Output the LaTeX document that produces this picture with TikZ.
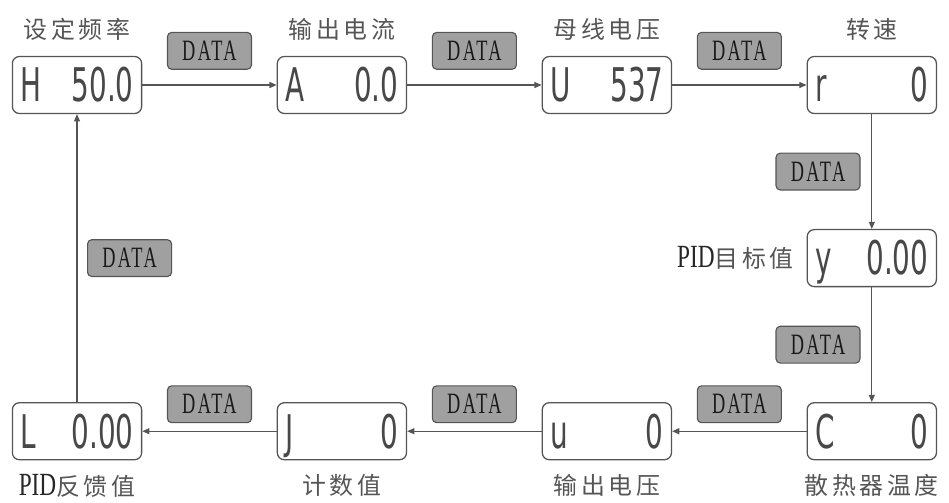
\documentclass[tikz,border=0pt]{standalone}
\usepackage{fontspec}
\usepackage{xcolor}
\usepackage{tikz}
\usetikzlibrary{arrows.meta,positioning}
\newfontfamily\cjk[LetterSpace=15]{Noto Sans CJK SC}
\newfontfamily\segfont[FakeStretch=0.6]{DejaVu Sans}
\newfontfamily\tagfont[FakeStretch=0.62,LetterSpace=8]{Liberation Serif}
\newfontfamily\pidfont[FakeStretch=0.72]{Liberation Serif}
\newcommand{\pidtext}{{\pidfont\fontsize{23}{24}\selectfont\color{black!85}PID}}
\definecolor{lineg}{HTML}{555555}
\definecolor{tagg}{HTML}{A0A0A0}
\definecolor{segg}{HTML}{484848}

\begin{document}
\begin{tikzpicture}[x=0.025cm, y=-0.025cm,
  disp/.style={rectangle, draw=lineg, line width=0.9pt, fill=white,
    rounded corners=5pt, minimum width=3.225cm, minimum height=1.425cm,
    text width=2.83cm, inner xsep=0.2cm, text height=0.84cm, text depth=0cm,
    font=\segfont\fontsize{33}{35}\selectfont, text=segg},
  tag/.style={rectangle, draw=lineg, fill=tagg, rounded corners=3pt,
    line width=0.8pt, minimum width=2.1cm, minimum height=0.92cm,
    inner sep=0pt, text=black!90, font=\tagfont\fontsize{21}{22}\selectfont},
  lab/.style={inner sep=0pt, text=lineg, font=\cjk\fontsize{17}{18}\selectfont},
  arrow/.style={-{Triangle[length=1.8mm,width=1.5mm]}, draw=lineg, line width=0.9pt}
]
\useasboundingbox (0,0) rectangle (949,502);

\node[disp] (H) at (77,85) {H\hfill 50.0};
\node[disp, right=3.36cm of H] (A) {A\hfill 0.0};
\node[disp, right=3.36cm of A] (U) {U\hfill 537};
\node[disp, right=3.36cm of U] (R) {r\hfill 0};
\node[disp, below=2.87cm of R] (Y) {y\hfill 0.00};
\node[disp, below=2.87cm of Y] (C) {C\hfill 0};
\node[disp, left=3.36cm of C] (W) {u\hfill 0};
\node[disp, left=3.36cm of W] (J) {J\hfill 0};
\node[disp, left=3.36cm of J] (L) {L\hfill 0.00};

\node[lab, above=0.38cm of H] (labH) {设定频率};
\node[lab, above=0.38cm of A] (labA) {输出电流};
\node[lab, above=0.38cm of U] (labU) {母线电压};
\node[lab, above=0.38cm of R] (labR) {转速};
\node[lab, left=0.32cm of Y] (labY) {\pidtext 目标值};
\node[lab, below=0.35cm of C] (labC) {散热器温度};
\node[lab, below=0.35cm of W] (labW) {输出电压};
\node[lab, below=0.35cm of J] (labJ) {计数值};
\node[lab, below=0.35cm of L] (labL) {\pidtext 反馈值};

\draw[arrow] (H) -- (A) node[tag, midway, above=0.38cm] (tHA) {DATA};
\draw[arrow] (A) -- (U) node[tag, midway, above=0.38cm] (tAU) {DATA};
\draw[arrow] (U) -- (R) node[tag, midway, above=0.38cm] (tUR) {DATA};
\draw[arrow] (R) -- (Y) node[tag, midway, left=0.28cm] (tRY) {DATA};
\draw[arrow] (Y) -- (C) node[tag, midway, left=0.28cm] (tYC) {DATA};
\draw[arrow] (C) -- (W) node[tag, midway, above=0.2cm] (tCW) {DATA};
\draw[arrow] (W) -- (J) node[tag, midway, above=0.2cm] (tWJ) {DATA};
\draw[arrow] (J) -- (L) node[tag, midway, above=0.2cm] (tJL) {DATA};
\draw[arrow] (L) -- (H) node[tag, midway, right=0.25cm] (tLH) {DATA};
\end{tikzpicture}
\end{document}
